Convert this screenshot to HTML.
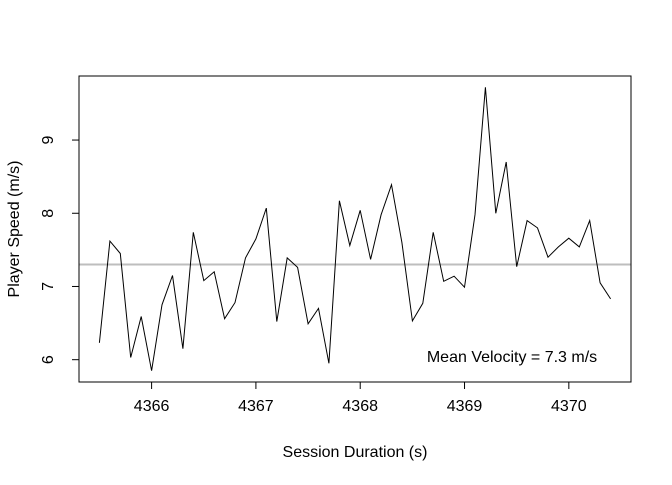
<!DOCTYPE html>
<html><head><meta charset="utf-8"><style>
body{margin:0;background:#fff}
svg text{font-family:"Liberation Sans",Arial,sans-serif;font-size:16px;fill:#000}
</style></head><body>
<svg id="chart" width="672" height="480" xmlns="http://www.w3.org/2000/svg">
<rect x="0" y="0" width="672" height="480" fill="#fff"/>
</svg>
<script>
const xValues=[4365.5,4365.6,4365.7,4365.8,4365.9,4366.0,4366.1,4366.2,4366.3,4366.4,4366.5,4366.6,4366.7,4366.8,4366.9,4367.0,4367.1,4367.2,4367.3,4367.4,4367.5,4367.6,4367.7,4367.8,4367.9,4368.0,4368.1,4368.2,4368.3,4368.4,4368.5,4368.6,4368.7,4368.8,4368.9,4369.0,4369.1,4369.2,4369.3,4369.4,4369.5,4369.6,4369.7,4369.8,4369.9,4370.0,4370.1,4370.2,4370.3,4370.4];
const speedValues=[6.23,7.62,7.45,6.03,6.59,5.85,6.75,7.15,6.15,7.74,7.08,7.20,6.56,6.78,7.39,7.65,8.07,6.52,7.39,7.26,6.49,6.70,5.95,8.17,7.56,8.04,7.37,7.98,8.39,7.60,6.53,6.77,7.74,7.07,7.14,6.99,7.98,9.72,8.00,8.70,7.27,7.90,7.80,7.40,7.54,7.66,7.54,7.90,7.05,6.83];
const meanValue=[7.3];
const xTicks=[4366,4367,4368,4369,4370];
const yTicks=[6,7,8,9];
const NS="http://www.w3.org/2000/svg";
const svg=document.getElementById('chart');
const L=79,R=631,T=76,B=382;
const xmin=Math.min(...xValues),xmax=Math.max(...xValues),ymin=Math.min(...speedValues),ymax=Math.max(...speedValues);
const x0=xmin-0.04*(xmax-xmin),x1=xmax+0.04*(xmax-xmin),y0=ymin-0.04*(ymax-ymin),y1=ymax+0.04*(ymax-ymin);
const sx=v=>L+(v-x0)/(x1-x0)*(R-L);
const sy=v=>B-(v-y0)/(y1-y0)*(B-T);
function mk(tag,attrs){const e=document.createElementNS(NS,tag);for(const k in attrs)e.setAttribute(k,attrs[k]);svg.appendChild(e);return e;}
let e;
e=mk('line',{x1:L,x2:R,y1:sy(meanValue[0]),y2:sy(meanValue[0]),stroke:'#bebebe','stroke-width':2});


e=mk('polyline',{points:xValues.map((x,i)=>sx(x).toFixed(1)+','+sy(speedValues[i]).toFixed(1)).join(' '),fill:'none',stroke:'#000','stroke-width':1});


e=mk('rect',{x:L,y:T,width:R-L,height:B-T,fill:'none',stroke:'#000','stroke-width':1});


xTicks.forEach(t=>{
 const x=sx(t);
 e=mk('line',{x1:x,x2:x,y1:B,y2:B+7,stroke:'#000'});
 
 
 e=mk('text',{x:x,y:B+29,'text-anchor':'middle'});e.textContent=t;
 
 
});
e=mk('line',{x1:sx(xTicks[0]),x2:sx(xTicks[xTicks.length-1]),y1:B,y2:B,stroke:'#000'});


yTicks.forEach(t=>{
 const y=sy(t);
 e=mk('line',{x1:L-7,x2:L,y1:y,y2:y,stroke:'#000'});
 
 
 e=mk('text',{x:0,y:0,'text-anchor':'middle',transform:`translate(${L-26},${y}) rotate(-90)`});e.textContent=t;
 
 
});
e=mk('line',{x1:L,x2:L,y1:sy(yTicks[0]),y2:sy(yTicks[yTicks.length-1]),stroke:'#000'});


e=mk('text',{x:355,y:457,'text-anchor':'middle'});e.textContent='Session Duration (s)';


e=mk('text',{x:0,y:0,'text-anchor':'middle',transform:'translate(19,229) rotate(-90)'});e.textContent='Player Speed (m/s)';


e=mk('text',{x:512,y:362,'text-anchor':'middle'});e.textContent='Mean Velocity = '+meanValue[0]+' m/s';


</script>
</body></html>
